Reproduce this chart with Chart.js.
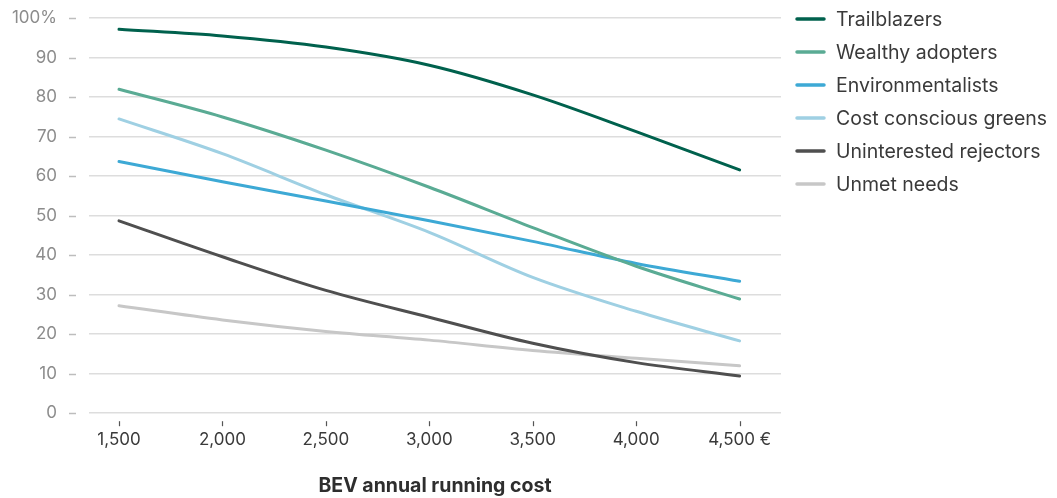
<!DOCTYPE html>
<html>
<head>
<meta charset="utf-8">
<script src="https://cdn.jsdelivr.net/npm/chart.js@4.4.1/dist/chart.umd.min.js"></script>
<style>
  html, body { margin: 0; padding: 0; background: #ffffff; }
  #wrap { position: relative; width: 1057px; height: 498px; }
</style>
</head>
<body>
<div id="wrap"><canvas id="chart" width="1057" height="498"></canvas></div>
<script>
// Annual running cost of a BEV (EUR)
const costs = [1500, 2000, 2500, 3000, 3500, 4000, 4500];
const costTickLabels = ['1,500', '2,000', '2,500', '3,000', '3,500', '4,000', '4,500 €'];
const shareTicks = [0, 10, 20, 30, 40, 50, 60, 70, 80, 90, 100];

// Share of each segment (%) at each running cost
const trailblazers = [97.2, 95.5, 92.7, 88.1, 80.6, 71.3, 61.6];
const wealthyAdopters = [82.0, 75.0, 66.6, 57.2, 47.0, 37.2, 28.9];
const environmentalists = [63.7, 58.6, 53.7, 48.7, 43.5, 37.9, 33.4];
const costConsciousGreens = [74.5, 65.7, 55.3, 45.8, 34.4, 25.8, 18.3];
const uninterestedRejectors = [48.7, 39.6, 31.1, 24.3, 17.7, 12.8, 9.4];
const unmetNeeds = [27.2, 23.6, 20.7, 18.5, 15.9, 13.9, 12.0];

const segmentNames = ['Trailblazers', 'Wealthy adopters', 'Environmentalists',
  'Cost conscious greens', 'Uninterested rejectors', 'Unmet needs'];
const segmentColors = ['#00614d', '#5aab94', '#3da9d5', '#9fd0e3', '#4f4f4f', '#c7c7c7'];
const segmentValues = [trailblazers, wealthyAdopters, environmentalists,
  costConsciousGreens, uninterestedRejectors, unmetNeeds];

const FONT = 'Inter, "Liberation Sans", sans-serif';

// Short detached tick marks for both axes plus a line-sample legend on the right
const decorations = {
  id: 'decorations',
  afterDraw(chart) {
    const ctx = chart.ctx;
    const x = chart.scales.x, y = chart.scales.y;
    ctx.save();
    ctx.strokeStyle = '#bdbdbd';
    ctx.lineWidth = 1.5;
    shareTicks.forEach(v => {
      const py = Math.round(y.getPixelForValue(v)) + 0.5;
      ctx.beginPath();
      ctx.moveTo(chart.chartArea.left - 20, py);
      ctx.lineTo(chart.chartArea.left - 13, py);
      ctx.stroke();
    });
    ctx.strokeStyle = '#555555';
    ctx.lineWidth = 1.2;
    costs.forEach(v => {
      const px = Math.round(x.getPixelForValue(v)) + 0.5;
      ctx.beginPath();
      ctx.moveTo(px, chart.chartArea.bottom + 8);
      ctx.lineTo(px, chart.chartArea.bottom + 13);
      ctx.stroke();
    });

    // legend
    ctx.font = '19.5px ' + FONT;
    ctx.textBaseline = 'middle';
    ctx.textAlign = 'left';
    ctx.lineCap = 'round';
    chart.data.datasets.forEach((ds, i) => {
      const ly = 19 + i * 33;
      ctx.strokeStyle = ds.borderColor;
      ctx.lineWidth = 3.5;
      ctx.beginPath();
      ctx.moveTo(797, ly);
      ctx.lineTo(824, ly);
      ctx.stroke();
      ctx.fillStyle = '#3a3a3a';
      ctx.fillText(ds.label, 836, ly + 1);
    });
    ctx.restore();
  }
};

new Chart(document.getElementById('chart'), {
  type: 'line',
  data: {
    datasets: segmentNames.map((name, i) => ({
      label: name,
      data: costs.map((c, j) => ({ x: c, y: segmentValues[i][j] })),
      borderColor: segmentColors[i],
      backgroundColor: segmentColors[i],
      borderWidth: 3,
      pointRadius: 0,
      cubicInterpolationMode: 'monotone',
      borderCapStyle: 'round'
    }))
  },
  options: {
    responsive: false,
    animation: false,
    events: [],
    layout: { padding: { left: 0, right: 276, top: 0, bottom: 0 } },
    plugins: { legend: { display: false }, tooltip: { enabled: false } },
    scales: {
      x: {
        type: 'linear',
        min: 1355,
        max: 4700,
        afterBuildTicks(scale) { scale.ticks = costs.map(v => ({ value: v })); },
        border: { display: false },
        grid: { display: false, drawTicks: false },
        ticks: {
          padding: 16,
          maxRotation: 0,
          autoSkip: false,
          color: '#3a3a3a',
          font: { family: FONT, size: 17 },
          callback(v) { return costTickLabels[costs.indexOf(v)]; }
        },
        title: {
          display: true,
          text: 'BEV annual running cost',
          color: '#2e2e2e',
          font: { family: FONT, size: 19.5, weight: 'bold' },
          padding: { top: 9, bottom: 0 }
        }
      },
      y: {
        min: 0,
        max: 100,
        afterBuildTicks(scale) { scale.ticks = shareTicks.map(v => ({ value: v })); },
        afterFit(scale) { scale.width = 89; },
        border: { display: false },
        grid: { color: '#dddddd', lineWidth: 1.5, drawTicks: true, tickLength: 24, tickColor: 'rgba(0,0,0,0)' },
        ticks: {
          padding: 8,
          color: '#8c8c8c',
          font: { family: FONT, size: 17 },
          callback(v) { return v === 100 ? '100%' : String(v); }
        }
      }
    }
  },
  plugins: [decorations]
});
</script>
</body>
</html>
